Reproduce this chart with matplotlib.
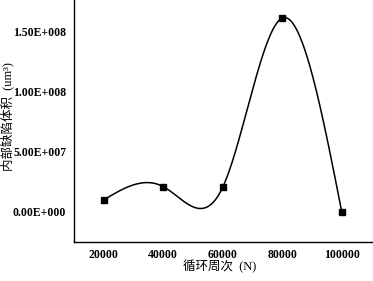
import numpy as np
import matplotlib
matplotlib.use("Agg")
import matplotlib.pyplot as plt

cycles = [20000, 40000, 60000, 80000, 100000]
volume = [1.0e7, 2.1e7, 2.05e7, 1.61e8, 0.0]
yticks = [0, 5e7, 1e8, 1.5e8]
ytick_labels = ["0.00E+000", "5.00E+007", "1.00E+008", "1.50E+008"]
xticks = [20000, 40000, 60000, 80000, 100000]

def natural_spline(x, y, xs):
    x = np.asarray(x, float); y = np.asarray(y, float)
    n = len(x)
    h = np.diff(x)
    A = np.zeros((n, n)); b = np.zeros(n)
    A[0, 0] = 1; A[-1, -1] = 1
    for i in range(1, n - 1):
        A[i, i - 1] = h[i - 1]
        A[i, i] = 2 * (h[i - 1] + h[i])
        A[i, i + 1] = h[i]
        b[i] = 3 * ((y[i + 1] - y[i]) / h[i] - (y[i] - y[i - 1]) / h[i - 1])
    c = np.linalg.solve(A, b)
    out = np.empty_like(xs)
    for k, xv in enumerate(xs):
        i = min(max(np.searchsorted(x, xv) - 1, 0), n - 2)
        dx = xv - x[i]
        bi = (y[i + 1] - y[i]) / h[i] - h[i] * (2 * c[i] + c[i + 1]) / 3
        di = (c[i + 1] - c[i]) / (3 * h[i])
        out[k] = y[i] + bi * dx + c[i] * dx ** 2 + di * dx ** 3
    return out

serif = ["Liberation Serif", "Noto Sans CJK SC"]
plt.rcParams['font.family'] = serif

fig = plt.figure(figsize=(3.73, 2.81), dpi=100)
ax = fig.add_axes([74 / 373, 39 / 281, 299 / 373, 242 / 281])

xs = np.linspace(cycles[0], cycles[-1], 400)
ax.plot(xs, natural_spline(cycles, volume, xs), color="black", lw=1.1)
ax.plot(cycles, volume, linestyle="none", marker="s", color="black", markersize=4.5)

ax.set_xlim(10000, 110500)
ax.set_ylim(-2.5e7, 1.76e8)
ax.set_xticks(xticks)
ax.set_xticklabels([str(v) for v in xticks], fontsize=8.5, fontweight="bold")
ax.set_yticks(yticks)
ax.set_yticklabels(ytick_labels, fontsize=8.5, fontweight="bold")
ax.tick_params(axis="x", length=0, pad=5)
ax.tick_params(axis="y", length=0, pad=5.5)
for s in ["top", "right"]:
    ax.spines[s].set_visible(False)
ax.spines["left"].set_linewidth(1.0)
ax.spines["bottom"].set_linewidth(1.0)

ax.set_xlabel("循环周次  (N)", fontsize=9, family=serif)
ax.set_ylabel("内部缺陷体积  (um³)", fontsize=9, family=serif)
ax.xaxis.set_label_coords((220 - 74) / 299, (242 - 267) / 242)
ax.yaxis.set_label_coords((7 - 74) / 299, (242 - 117) / 242)
ax.xaxis.label.set_va("center")
ax.yaxis.label.set_va("center")

fig.savefig("out.png", dpi=100)
